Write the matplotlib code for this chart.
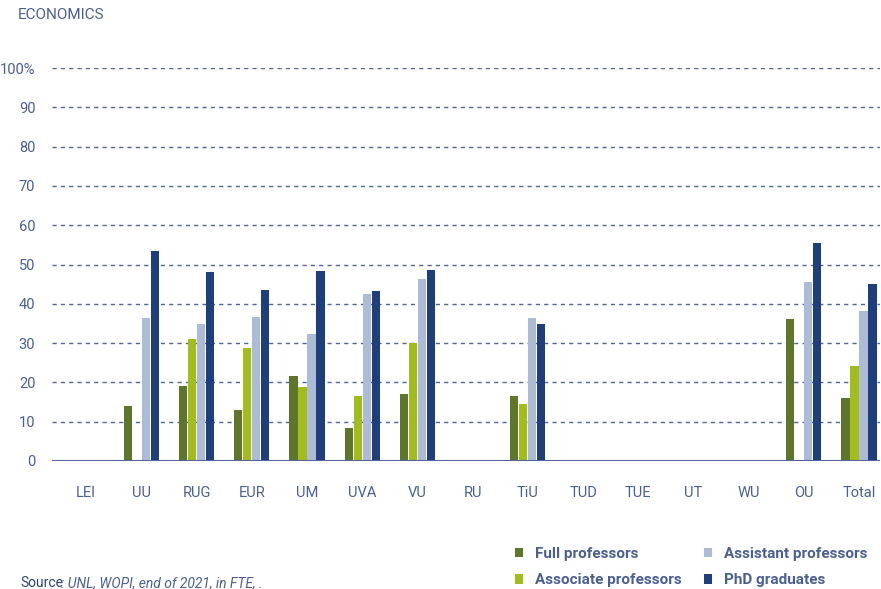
import numpy as np
import matplotlib
matplotlib.use("Agg")
import matplotlib.pyplot as plt
from matplotlib.patches import Patch

# Share of women per university, economics, end of 2021 (in FTE)
universities = ["LEI", "UU", "RUG", "EUR", "UM", "UVA", "VU", "RU",
                "TiU", "TUD", "TUE", "UT", "WU", "OU", "Total"]
full_prof = [0, 14.0, 19.1, 13.0, 21.6, 8.4, 17.0, 0, 16.5, 0, 0, 0, 0, 36.1, 16.0]
assoc_prof = [0, 0, 31.0, 28.8, 18.8, 16.5, 30.0, 0, 14.5, 0, 0, 0, 0, 0, 24.2]
assist_prof = [0, 36.4, 34.9, 36.6, 32.3, 42.5, 46.3, 0, 36.4, 0, 0, 0, 0, 45.6, 38.2]
phd_grads = [0, 53.4, 48.1, 43.5, 48.3, 43.3, 48.6, 0, 34.9, 0, 0, 0, 0, 55.5, 45.0]

series_names = ["Full professors", "Associate professors",
                "Assistant professors", "PhD graduates"]
colors = ["#5e762c", "#a2bc1c", "#adbcd6", "#1f3e7c"]
TEXT = "#4a5f92"

plt.rcParams["font.family"] = ["Roboto", "DejaVu Sans"]

fig = plt.figure(figsize=(8.81, 5.89), dpi=100)
ax = fig.add_axes([52 / 881, 128 / 589, 828 / 881, 393 / 589])

x = np.arange(len(universities))
step = 0.163
width = 0.148
for i, (vals, c) in enumerate(zip([full_prof, assoc_prof, assist_prof, phd_grads], colors)):
    ax.bar(x + (i - 1.5) * step, vals, width, color=c, zorder=3)

ax.set_xlim(-0.62, 14.38)
ax.set_ylim(0, 100)
ax.set_yticks(range(0, 101, 10))
ax.set_yticklabels([str(v) for v in range(0, 100, 10)] + ["100%"])
ax.set_xticks(x)
ax.set_xticklabels(universities)
ax.tick_params(axis="both", length=0, colors=TEXT, labelsize=10.5)
ax.tick_params(axis="x", pad=18)
ax.tick_params(axis="y", pad=12)

for v in range(10, 101, 10):
    ax.axhline(v, color="#4f659c", lw=1, ls=(0, (3, 3)), zorder=1)
ax.axhline(0, color="#4f659c", lw=1.5, zorder=4)
for s in ax.spines.values():
    s.set_visible(False)

fig.text(18 / 881, 1 - 15 / 589, "ECONOMICS", color=TEXT, fontsize=11,
         va="center", ha="left")
fig.text(20 / 881, 1 - 583 / 589, "Source", color="#2d4478", fontsize=10,
         va="center", ha="left")
fig.text(61 / 881, 1 - 583 / 589, ": UNL, WOPI, end of 2021, in FTE, .",
         color=TEXT, fontsize=10, style="italic", va="center", ha="left")

handles = [Patch(facecolor=c, edgecolor="none") for c in colors]
leg = fig.legend(handles, series_names, ncol=2, loc="center left",
                 bbox_to_anchor=(501 / 881, 1 - 567 / 589), frameon=False,
                 handlelength=0.55, handleheight=0.55,
                 handletextpad=0.8, columnspacing=1.4, labelspacing=0.85,
                 prop={"weight": "bold", "size": 11})
for t in leg.get_texts():
    t.set_color(TEXT)

fig.savefig("out.png", dpi=100)
